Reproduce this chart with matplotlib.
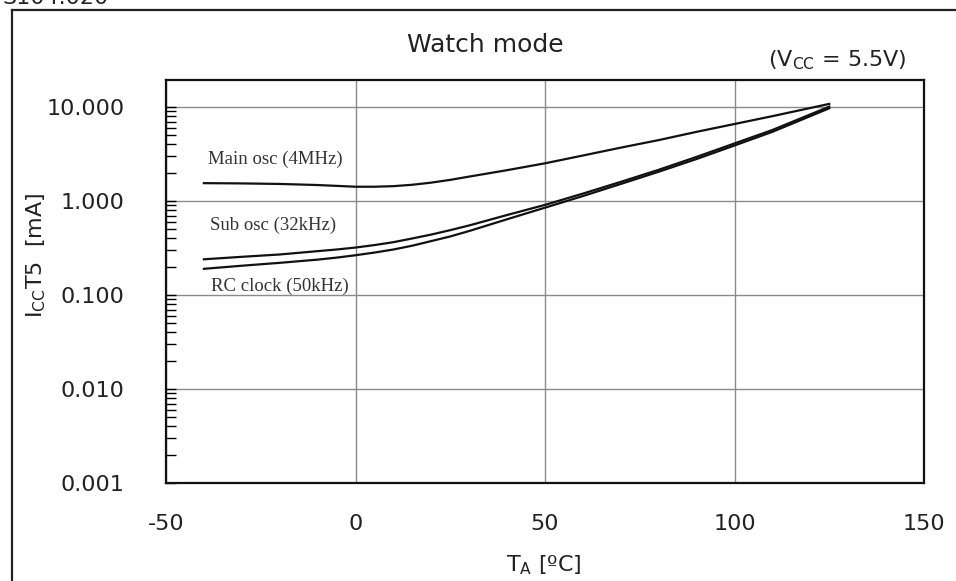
import matplotlib
matplotlib.use("Agg")
import matplotlib.pyplot as plt
from matplotlib.lines import Line2D
from matplotlib.ticker import LogLocator, FixedLocator, NullFormatter

# ---- data ----
temp_c = [-40, -30, -20, -10, -5, 0, 5, 10, 15, 20, 25, 30, 40, 50, 60, 70, 80, 90, 100, 110, 125]
main_osc_ma = [1.55, 1.54, 1.52, 1.48, 1.45, 1.42, 1.42, 1.44, 1.49, 1.57, 1.68, 1.82, 2.13, 2.52, 3.05, 3.70, 4.45, 5.45, 6.6, 8.0, 10.8]
sub_osc_ma = [0.24, 0.255, 0.27, 0.293, 0.305, 0.32, 0.34, 0.365, 0.40, 0.44, 0.49, 0.55, 0.71, 0.91, 1.2, 1.6, 2.15, 2.95, 4.1, 5.7, 10.1]
rc_clock_ma = [0.19, 0.205, 0.22, 0.238, 0.25, 0.265, 0.283, 0.305, 0.335, 0.375, 0.42, 0.48, 0.64, 0.85, 1.13, 1.52, 2.05, 2.8, 3.9, 5.45, 9.7]

x_ticks = [-50, 0, 50, 100, 150]
x_tick_labels = ["-50", "0", "50", "100", "150"]
y_ticks = [0.001, 0.01, 0.1, 1, 10]
y_tick_labels = ["0.001", "0.010", "0.100", "1.000", "10.000"]

W, H = 956, 581
fig = plt.figure(figsize=(W / 100, H / 100), dpi=100)
ax = fig.add_axes([166 / W, 1 - 483 / H, (924 - 166) / W, (483 - 80) / H])

for y in (main_osc_ma, sub_osc_ma, rc_clock_ma):
    ax.plot(temp_c, y, color="#111111", lw=1.6, solid_joinstyle="round", zorder=3)

ax.set_yscale("log")
ax.set_xlim(-50, 150)
ax.set_ylim(0.001, 19.4)
ax.set_xticks(x_ticks)
ax.set_xticklabels(x_tick_labels)
ax.yaxis.set_major_locator(FixedLocator(y_ticks))
ax.set_yticklabels(y_tick_labels)
ax.yaxis.set_minor_locator(LogLocator(base=10, subs=range(2, 10)))
ax.yaxis.set_minor_formatter(NullFormatter())

ax.grid(True, which="major", color="#8a8a8a", lw=1.0)
ax.set_axisbelow(True)
ax.tick_params(axis="y", which="both", direction="in", length=7, width=1.0, pad=30,
               labelsize=16, left=True, right=False, labelcolor="#222222")
ax.tick_params(axis="x", which="both", length=0, pad=22, labelsize=16, labelcolor="#222222")
for s in ax.spines.values():
    s.set_linewidth(1.6)
    s.set_color("#111111")

# curve labels
serif = "Liberation Serif"
ax.text(-39, 2.75, "Main osc (4MHz)", family=serif, fontsize=13.5, va="center", ha="left", color="#333333")
ax.text(-38.5, 0.55, "Sub osc (32kHz)", family=serif, fontsize=13.5, va="center", ha="left", color="#333333")
ax.text(-38, 0.124, "RC clock (50kHz)", family=serif, fontsize=13.5, va="center", ha="left", color="#333333")

# titles / labels
fig.text(485 / W, 1 - 45 / H, "Watch mode", fontsize=18, ha="center", va="center", color="#222222")
fig.text(837 / W, 1 - 60 / H, r"(V$_{\mathregular{CC}}$ = 5.5V)", fontsize=16, ha="center", va="center", color="#222222")
fig.text(36 / W, 1 - 255 / H, r"I$_{\mathregular{CC}}$T5  [mA]", fontsize=16, rotation=90, ha="center", va="center", color="#222222")
fig.text(544 / W, 1 - 565 / H, r"T$_{\mathregular{A}}$ [ºC]", fontsize=16, ha="center", va="center", color="#222222")

# outer frame and clipped header text
fig.add_artist(Line2D([12 / W, 12 / W], [0, 1 - 10 / H], color="#222222", lw=1.6, transform=fig.transFigure))
fig.add_artist(Line2D([12 / W, 1], [1 - 10 / H, 1 - 10 / H], color="#222222", lw=1.6, transform=fig.transFigure))
fig.text(2 / W, 1 - 4 / H, "S104.020", fontsize=16, ha="left", va="baseline", color="#222222")

fig.savefig("out.png", dpi=100)
